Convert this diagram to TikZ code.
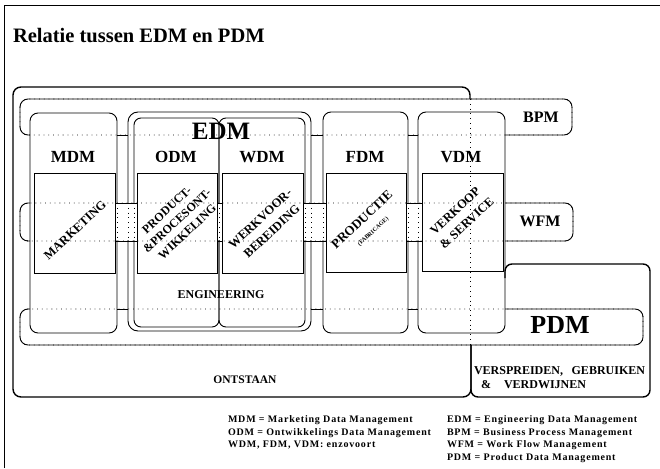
\documentclass[tikz,border=0pt]{standalone}
\usepackage{fontspec}
\setmainfont{Liberation Serif}
\begin{document}
\begin{tikzpicture}[x=1pt,y=-1pt,
  ln/.style={line width=0.9pt},
  thk/.style={line width=1.4pt},
  dotl/.style={line width=0.8pt, dash pattern=on 0.8pt off 4pt},
  colbox/.style={ln, rounded corners=8},
  inbox/.style={ln},
  wipe/.style={fill=white, draw=none},
  txt/.style={inner sep=0pt, outer sep=0pt},
  collbl/.style={txt, font=\bfseries\fontsize{17}{17}\selectfont},
  biglbl/.style={txt, font=\bfseries\fontsize{26}{26}\selectfont},
  midlbl/.style={txt, font=\bfseries\fontsize{16}{16}\selectfont},
  smlbl/.style={txt, font=\bfseries\fontsize{12}{12}\selectfont},
  rot/.style={txt, rotate=43, align=center, font=\bfseries\fontsize{12.5}{15}\selectfont},
  leg/.style={txt, anchor=base west, font=\bfseries\fontsize{10}{12}\selectfont\addfontfeatures{LetterSpace=8}}
]
\useasboundingbox (0,0) rectangle (660,468);

% page frame
\draw[ln] (4,468) -- (4,5) -- (660,5);

% title
\node[txt, anchor=base west, font=\bfseries\fontsize{20.5}{22}\selectfont] (title) at (13,43) {Relatie tussen EDM en PDM};

% ONTSTAAN box
\draw[thk, rounded corners=8] (471,345) -- (471,397) -- (13,397) -- (13,87) -- (470,87) -- (470,99);
\draw[dotl] (470,99) -- (470,345);

% VERSPREIDEN box
\draw[thk, rounded corners=7] (505,278) -- (505,264) -- (650,264) -- (650,397) -- (471,397) -- (471,345);

% bands, dotted outline
\draw[dotl, rounded corners=8] (20,99) rectangle (572,135);
\draw[dotl, rounded corners=8] (20,203) rectangle (573,241);
\draw[dotl, rounded corners=8] (20,309) rectangle (643,345);

% BPM band solid parts
\draw[ln, rounded corners=8] (30,135) -- (20,135) -- (20,99) -- (572,99) -- (572,135) -- (505,135);
\draw[ln] (117,135) -- (128,135) (311,135) -- (323,135) (408,135) -- (418,135);

% WFM band solid ends
\draw[ln, rounded corners=8] (30,203) -- (20,203) -- (20,241) -- (30,241);
\draw[ln, rounded corners=8] (505,203) -- (573,203) -- (573,241) -- (505,241);

% PDM band solid parts
\draw[ln, rounded corners=8] (30,309) -- (20,309) -- (20,345) -- (643,345) -- (643,309) -- (505,309);
\draw[ln] (117,309) -- (128,309) (311,309) -- (323,309) (408,309) -- (418,309);

% columns
\draw[colbox] (30,113) rectangle (117,333);
\draw[ln, rounded corners=10] (128,112) rectangle (311,331);
\draw[ln, rounded corners=7] (134,118) rectangle (219,327);
\draw[ln, rounded corners=7] (219,118) rectangle (305,327);
\draw[colbox] (323,112) rectangle (408,333);
\draw[colbox] (418,112) rectangle (505,333);

% inner boxes
\draw[inbox] (34,173) rectangle (115,273);
\draw[inbox] (137,173) rectangle (217,273);
\draw[inbox] (222,173) rectangle (303,273);
\draw[inbox] (326,173) rectangle (406,272);
\draw[inbox] (422,173) rectangle (503,271);

% WFM band crossing the gaps between columns
\fill[wipe] (115.6,203.6) rectangle (136.4,240.4);
\fill[wipe] (217.6,203.6) rectangle (221.4,240.4);
\fill[wipe] (303.6,203.6) rectangle (325.4,240.4);
\fill[wipe] (406.6,203.6) rectangle (421.4,240.4);
\draw[dotl] (117,203) -- (117,241) (128,203) -- (128,241) (134,203) -- (134,241)
            (219,203) -- (219,241)
            (305,203) -- (305,241) (311,203) -- (311,241) (323,203) -- (323,241)
            (408,203) -- (408,241) (418,203) -- (418,241);
\draw[ln] (115,203) -- (137,203) (115,241) -- (137,241)
          (217,203) -- (222,203) (217,241) -- (222,241)
          (303,203) -- (326,203) (303,241) -- (326,241)
          (406,203) -- (422,203) (406,241) -- (422,241);

% labels
\node[collbl] (mdm) at (73,157) {MDM};
\node[collbl] (odm) at (176,157) {ODM};
\node[collbl] (wdm) at (262,157) {WDM};
\node[collbl] (fdm) at (365,157) {FDM};
\node[collbl] (vdm) at (461,157) {VDM};
\node[txt, font=\bfseries\fontsize{25}{25}\selectfont] (edm) at (221,131) {EDM};
\node[midlbl] (bpm) at (541,117) {BPM};
\node[midlbl] (wfm) at (540,221) {WFM};
\node[biglbl] (pdm) at (560,325) {PDM};
\node[smlbl] (eng) at (221,295) {ENGINEERING};
\node[txt, font=\bfseries\fontsize{11.5}{12}\selectfont] (ont) at (245,380) {ONTSTAAN};

\node[txt, anchor=base west, font=\bfseries\fontsize{12}{12}\selectfont] (versp) at (474,374) {VERSPREIDEN,};
\node[txt, anchor=base east, font=\bfseries\fontsize{12}{12}\selectfont] (gebr) at (645,374) {GEBRUIKEN};
\node[txt, anchor=base west, font=\bfseries\fontsize{12}{12}\selectfont] (amp) at (481,388) {\&};
\node[txt, anchor=base west, font=\bfseries\fontsize{12}{12}\selectfont] (verdw) at (504,388) {VERDWIJNEN};

% rotated texts
\node[rot] (mkt) at (75,230) {MARKETING};
\node[rot, font=\bfseries\fontsize{12}{15}\selectfont] (prod) at (177,221) {PRODUCT-\\\&PROCESONT-\\WIKKELING};
\node[rot, font=\bfseries\fontsize{12.5}{17}\selectfont] (werk) at (266,225) {WERKVOOR-\\BEREIDING};
\node[rot, font=\bfseries\fontsize{13}{13}\selectfont] (fab) at (367,225) {PRODUCTIE\\[1pt]{\fontsize{6}{7}\selectfont (FABRICAGE)}};
\node[rot, font=\bfseries\fontsize{12.5}{17}\selectfont] (verk) at (461,217) {VERKOOP\\\& SERVICE};

% legend
\node[leg] (l1) at (228,422.5) {MDM = Marketing Data Management};
\node[leg] (l2) at (228,435.2) {ODM = Ontwikkelings Data Management};
\node[leg] (l3) at (228,447.9) {WDM, FDM, VDM: enzovoort};
\node[leg] (r1) at (447,422.5) {EDM = Engineering Data Management};
\node[leg] (r2) at (447,435.2) {BPM = Business Process Management};
\node[leg] (r3) at (447,447.9) {WFM = Work Flow Management};
\node[leg] (r4) at (447,460.6) {PDM = Product Data Management};
\end{tikzpicture}
\end{document}
